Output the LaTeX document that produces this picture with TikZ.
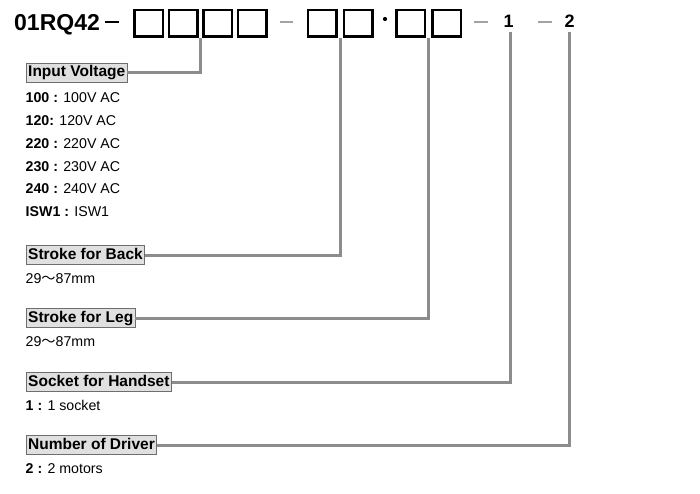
\documentclass[tikz,border=0pt]{standalone}
\usepackage{fontspec}
\setmainfont{Liberation Sans}
\newfontfamily\cjk{Noto Sans CJK SC}
\usepackage{tikz}
\usetikzlibrary{positioning,calc}
\definecolor{leadgray}{HTML}{8C8C8C}
\definecolor{tagfill}{HTML}{E0E0E0}
\definecolor{tagline}{HTML}{6E6E6E}
\tikzset{
  digit/.style={draw=black, line width=2.5pt, minimum width=28.5pt, minimum height=26.5pt, inner sep=0pt},
  tag/.style={draw=tagline, fill=tagfill, line width=0.8pt, inner xsep=1.8pt, inner ysep=2pt,
    text height=11.5pt, text depth=3.5pt, anchor=west, font=\fontsize{15.5}{18}\selectfont\bfseries},
  item/.style={anchor=base west, inner sep=0pt, font=\fontsize{14.2}{16}\selectfont},
  lead/.style={draw=leadgray, line width=3pt},
  sep/.style={draw=leadgray!80, line width=1.2pt}
}

\begin{document}
\begin{tikzpicture}[x=1pt, y=-1pt]
			\useasboundingbox (0,0) rectangle (700,494);
			
			% model code
			\node[anchor=base west, inner sep=0pt, font=\fontsize{23}{26}\selectfont\bfseries] (code) at (14,31) {01RQ42};
			\draw[line width=1.3pt] (105,22) -- (119,22);
			\node[digit] (b1) at (148.5,23.5) {};
			\node[digit, right=3.5pt of b1] (b2) {};
			\node[digit, right=3.5pt of b2] (b3) {};
			\node[digit, right=3.5pt of b3] (b4) {};
			\draw[sep] (280,22) -- (293,22);
			\node[digit] (b5) at (322,23.5) {};
			\node[digit, right=5pt of b5] (b6) {};
			\fill (385,19) circle (2.1pt);
			\node[digit] (b7) at (410.5,23.5) {};
			\node[digit, right=5pt of b7] (b8) {};
			\draw[sep] (474,22) -- (488,22);
			\node[anchor=base, inner sep=0pt, font=\fontsize{18}{20}\selectfont\bfseries] (one) at (508.5,27.5) {1};
			\draw[sep] (538,22) -- (552,22);
			\node[anchor=base, inner sep=0pt, font=\fontsize{18}{20}\selectfont\bfseries] (two) at (569.5,27.5) {2};
			
			% labels
			\node[tag] (iv) at (26,72.5) {Input Voltage};
			\node[item] at (25.5,103) {\textbf{100 :} 100V AC};
			\node[item] at (25.5,125.7) {\textbf{120:} 120V AC};
			\node[item] at (25.5,148.4) {\textbf{220 :} 220V AC};
			\node[item] at (25.5,171.1) {\textbf{230 :} 230V AC};
			\node[item] at (25.5,193.8) {\textbf{240 :} 240V AC};
			\node[item] at (25.5,216.5) {\textbf{ISW1 :} ISW1};
			
			\node[tag] (sb) at (26,255) {Stroke for Back};
			\node[item] at (25.5,283) {29{\cjk ～}87mm};
			
			\node[tag] (sl) at (26,318) {Stroke for Leg};
			\node[item] at (25.5,346) {29{\cjk ～}87mm};
			
			\node[tag] (sh) at (26,382) {Socket for Handset};
			\node[item] at (25.5,410) {\textbf{1 :} 1 socket};
			
			\node[tag] (nd) at (26,445) {Number of Driver};
			\node[item] at (25.5,473) {\textbf{2 :} 2 motors};
			
			% leaders
			\draw[lead] ($(b2.south east)!.5!(b3.south west)$) |- (iv.east);
			\draw[lead] ($(b5.south east)!.5!(b6.south west)$) |- (sb.east);
			\draw[lead] ($(b7.south east)!.5!(b8.south west)$) |- (sl.east);
			\draw[lead] ([xshift=1.5pt,yshift=-4pt]one.south) |- (sh.east);
			\draw[lead] ([xshift=0pt,yshift=-4pt]two.south) |- (nd.east);
		\end{tikzpicture}
\end{document}
